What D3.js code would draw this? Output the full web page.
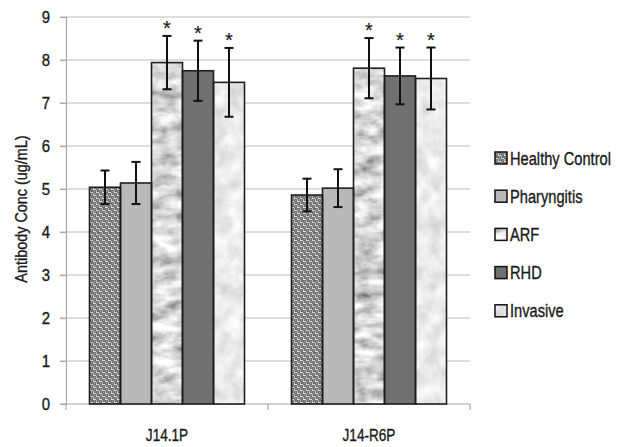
<!DOCTYPE html>
<html><head><meta charset="utf-8">
<script src="https://cdn.jsdelivr.net/npm/d3@7"></script>
<style>
html,body{margin:0;padding:0;background:#fff;}
svg text{font-family:"Liberation Sans",Arial,sans-serif;fill:#1a1a1a;stroke:#1a1a1a;stroke-width:0.35px;}
</style></head>
<body><svg id="c" width="621" height="447"></svg>
<script>
const categories = ["J14.1P", "J14-R6P"];
const series = ["Healthy Control", "Pharyngitis", "ARF", "RHD", "Invasive"];
const values = [
  [5.04, 5.14, 7.94, 7.75, 7.48],
  [4.86, 5.02, 7.81, 7.63, 7.57]
];
const errors = [
  [0.39, 0.49, 0.62, 0.70, 0.80],
  [0.38, 0.44, 0.70, 0.66, 0.72]
];
const significant = [false, false, true, true, true];
const yTicks = [0,1,2,3,4,5,6,7,8,9];
const yTitle = "Antibody Conc (ug/mL)";

const svg = d3.select("#c");
const defs = svg.append("defs");
const FONT = '"Liberation Sans",Arial,sans-serif';

// Healthy Control: woven texture
const pHC = defs.append("pattern").attr("id","pHC").attr("patternUnits","userSpaceOnUse").attr("width",6).attr("height",6);
pHC.append("rect").attr("width",6).attr("height",6).attr("fill","#747474");
[[0,0,3,1,"#d8d8d8"],[3,1,1,2,"#c2c2c2"],[3,3,3,1,"#dcdcdc"],[0,4,1,2,"#b8b8b8"],[1,2,1,1,"#9c9c9c"],[4,5,1,1,"#a8a8a8"],[5,1,1,1,"#949494"],[1,5,1,1,"#5a5a5a"]]
  .forEach(r=>pHC.append("rect").attr("x",r[0]).attr("y",r[1]).attr("width",r[2]).attr("height",r[3]).attr("fill",r[4]));

function noiseFilter(id, freq, oct, slope, intercept, seed, type){
  const f = defs.append("filter").attr("id",id).attr("x",0).attr("y",0).attr("width",1).attr("height",1);
  f.append("feTurbulence").attr("type",type).attr("baseFrequency",freq).attr("numOctaves",oct).attr("seed",seed).attr("result","n");
  const m = `${slope} 0 0 0 ${intercept}`;
  f.append("feColorMatrix").attr("in","n").attr("type","matrix")
    .attr("values",`${m} ${m} ${m} 0 0 0 0 1`).attr("result","g");
  f.append("feComposite").attr("in","g").attr("in2","SourceGraphic").attr("operator","in");
}
noiseFilter("fARF","0.045 0.09",4,1.3,0.03,4,"fractalNoise");
noiseFilter("fINV","0.07 0.06",3,0.5,0.58,9,"fractalNoise");

const fills = [
  {fill:"url(#pHC)"},
  {fill:"#b9b9b9"},
  {fill:"#a8a8a8", filter:"url(#fARF)"},
  {fill:"#707070"},
  {fill:"#d6d6d6", filter:"url(#fINV)"}
];

const y = d3.scaleLinear().domain([0,9]).range([404,17]);
const x0 = d3.scaleBand().domain(categories).range([66,470]).padding(0);
const x1 = d3.scaleBand().domain(series).range([23.5, x0.bandwidth()-23.5]).padding(0);

// gridlines
svg.append("g").selectAll("line").data(yTicks.filter(d=>d>0)).join("line")
  .attr("x1",60).attr("x2",470).attr("y1",d=>y(d)).attr("y2",d=>y(d))
  .attr("stroke","#bcbcbc").attr("stroke-width",1.2);

// y axis
const ya = svg.append("g").attr("transform","translate(66,0)")
  .call(d3.axisLeft(y).tickValues(yTicks).tickSize(6).tickPadding(9).tickFormat(d3.format("d")));
ya.select(".domain").attr("stroke","#a8a8a8").attr("stroke-width",1.2);
ya.selectAll(".tick line").attr("stroke","#a8a8a8").attr("stroke-width",1.2);
ya.selectAll("text").attr("font-size",17).style("font-family",FONT).attr("fill","#1a1a1a")
  .attr("transform","scale(0.88,1)").attr("x",-16/0.88);

// x axis
const xa = svg.append("g").attr("transform","translate(0,404)")
  .call(d3.axisBottom(x0).tickSize(0).tickPadding(26));
xa.select(".domain").remove();
svg.append("line").attr("x1",60).attr("x2",470).attr("y1",404).attr("y2",404).attr("stroke","#a8a8a8").attr("stroke-width",1.2);
svg.append("g").selectAll("line").data([0,1,2]).join("line")
  .attr("x1",d=>66+d*x0.bandwidth()).attr("x2",d=>66+d*x0.bandwidth())
  .attr("y1",404).attr("y2",410).attr("stroke","#a8a8a8").attr("stroke-width",1.2);
xa.selectAll("text").attr("font-size",16).style("font-family",FONT).attr("fill","#1a1a1a")
  .attr("transform","scale(0.85,1)");

// y title
svg.append("text").attr("transform","translate(27,209) rotate(-90) scale(0.9,1)").attr("text-anchor","middle")
  .attr("font-size",16).text(yTitle);

// bars
const flat = [];
categories.forEach((c,ci)=>series.forEach((s,si)=>flat.push({c,s,si,v:values[ci][si],e:errors[ci][si]})));
const bars = svg.append("g");
bars.selectAll("rect.fill").data(flat).join("rect").attr("class","fill")
  .attr("x",d=>x0(d.c)+x1(d.s)).attr("width",x1.bandwidth())
  .attr("y",d=>y(d.v)).attr("height",d=>y(0)-y(d.v))
  .attr("fill",d=>fills[d.si].fill).attr("filter",d=>fills[d.si].filter||null);
bars.selectAll("rect.outline").data(flat).join("rect").attr("class","outline")
  .attr("x",d=>x0(d.c)+x1(d.s)).attr("width",x1.bandwidth())
  .attr("y",d=>y(d.v)).attr("height",d=>y(0)-y(d.v))
  .attr("fill","none").attr("stroke","#1e1e1e").attr("stroke-width",1.6);

// error bars
const eb = svg.append("g").attr("stroke","#111").attr("stroke-width",2);
const cx = d=>x0(d.c)+x1(d.s)+x1.bandwidth()/2;
eb.selectAll("line.v").data(flat).join("line").attr("x1",cx).attr("x2",cx)
  .attr("y1",d=>y(d.v+d.e)).attr("y2",d=>y(d.v-d.e));
eb.selectAll("line.t").data(flat).join("line").attr("x1",d=>cx(d)-4.5).attr("x2",d=>cx(d)+4.5)
  .attr("y1",d=>y(d.v+d.e)).attr("y2",d=>y(d.v+d.e));
eb.selectAll("line.b").data(flat).join("line").attr("x1",d=>cx(d)-4.5).attr("x2",d=>cx(d)+4.5)
  .attr("y1",d=>y(d.v-d.e)).attr("y2",d=>y(d.v-d.e));

// asterisks
svg.append("g").selectAll("text").data(flat.filter(d=>significant[d.si])).join("text")
  .attr("x",cx).attr("y",d=>y(d.v+d.e)-1).attr("text-anchor","middle")
  .attr("font-size",20).style("font-family",FONT).style("stroke-width","0.2px").text("*");

// legend
const lg = svg.append("g").selectAll("g").data(series).join("g")
  .attr("transform",(d,i)=>`translate(495,${158+i*38.2})`);
lg.append("rect").attr("x",0).attr("y",-6).attr("width",12).attr("height",12)
  .attr("fill",(d,i)=>fills[i].fill).attr("filter",(d,i)=>fills[i].filter||null);
lg.append("rect").attr("x",0).attr("y",-6).attr("width",12).attr("height",12)
  .attr("fill","none").attr("stroke","#111").attr("stroke-width",1.5);
const lt = lg.append("text").attr("x",0).attr("y",6.5).attr("font-size",18).text(d=>d);
// condense legend text so "Healthy Control" spans ~101px
const w0 = lt.filter((d,i)=>i===0).node().getComputedTextLength();
const k = 101 / w0;
lt.attr("transform",`translate(15,0) scale(${k},1)`);
</script></body></html>
